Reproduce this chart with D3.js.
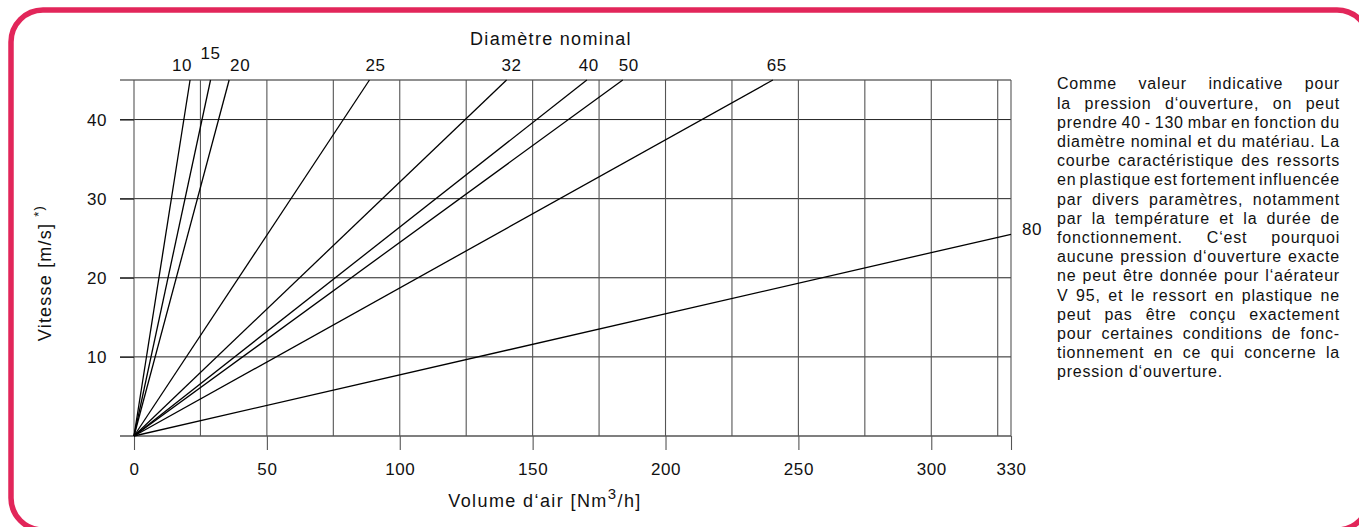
<!DOCTYPE html>
<html><head><meta charset="utf-8">
<script src="https://cdn.jsdelivr.net/npm/d3@7"></script>
<style>
html,body{margin:0;padding:0;background:#fff;}
svg{display:block;}
text{font-family:"Liberation Sans",Arial,Helvetica,sans-serif;fill:#111;}
</style>
</head><body>
<svg id="c" width="1359" height="527"></svg>
<script>
// ---- data ----
const xTicks = [0, 50, 100, 150, 200, 250, 300, 330];
const xMinor = [25, 75, 125, 175, 225, 275, 325];
const yTicks = [10, 20, 30, 40];
const yMax = 45;
const xMax = 330;
const diameters = ["10", "15", "20", "25", "32", "40", "50", "65", "80"];
const endVolume = [21.1, 28.8, 35.8, 88.6, 140.2, 170.4, 183.9, 240.4, 330];
const endSpeed  = [45, 45, 45, 45, 45, 45, 45, 45, 25.5];
const topTitle = "Diamètre nominal";
const xTitle = ["Volume d‘air [Nm", "3", "/h]"];
const yTitle = ["Vitesse [m/s] ", "*)"];
const paragraphLines = [
  "Comme valeur indicative pour",
  "la pression d‘ouverture, on peut",
  "prendre 40 - 130 mbar en fonction du",
  "diamètre nominal et du matériau. La",
  "courbe caractéristique des ressorts",
  "en plastique est fortement influencée",
  "par divers paramètres, notamment",
  "par la température et la durée de",
  "fonctionnement. C‘est pourquoi",
  "aucune pression d‘ouverture exacte",
  "ne peut être donnée pour l‘aérateur",
  "V 95, et le ressort en plastique ne",
  "peut pas être conçu exactement",
  "pour certaines conditions de fonc-",
  "tionnement en ce qui concerne la",
  "pression d‘ouverture."
];
// label layout (offsets relative to each line's end point)
const labelDx = [-8, 0, 11, 6, 5, 2, 6, 4, 21];
const labelDy = [-9, -21, -9, -9, -9, -9, -9, -9, 1];

// ---- layout ----
const svg = d3.select("#c");
const x = d3.scaleLinear().domain([0, xMax]).range([134, 1011]);
const y = d3.scaleLinear().domain([0, yMax]).range([436, 80]);
const leftExt = 120, tickDown = 14;

// border
svg.append("rect")
  .attr("x", 11).attr("y", 10).attr("width", 1358).attr("height", 520)
  .attr("rx", 32).attr("ry", 32)
  .attr("fill", "none").attr("stroke", "#e2265a").attr("stroke-width", 5.5);

const g = svg.append("g");

// horizontal gridlines
g.selectAll("line.h").data(yTicks.concat([yMax])).enter().append("line")
  .attr("x1", leftExt).attr("x2", x(xMax))
  .attr("y1", d => y(d)).attr("y2", d => y(d))
  .attr("stroke", "#222").attr("stroke-width", 1);

// minor vertical gridlines
g.selectAll("line.vm").data(xMinor).enter().append("line")
  .attr("x1", d => x(d)).attr("x2", d => x(d))
  .attr("y1", y(yMax)).attr("y2", y(0))
  .attr("stroke", "#555").attr("stroke-width", 1.1);

// major vertical gridlines
g.selectAll("line.vM").data(xTicks).enter().append("line")
  .attr("x1", d => x(d)).attr("x2", d => x(d))
  .attr("y1", y(yMax)).attr("y2", y(0))
  .attr("stroke", "#555").attr("stroke-width", 1.1);

// x axis
const xa = g.append("g").attr("transform", `translate(0,${y(0)})`)
  .call(d3.axisBottom(x).tickValues(xTicks).tickSize(tickDown).tickPadding(13).tickFormat(d3.format("d")));
xa.select(".domain").remove();
xa.selectAll(".tick line").attr("stroke", "#555").attr("stroke-width", 1.1);
xa.selectAll(".tick text").attr("fill", "#111").style("font-size", "17px")
  .style("letter-spacing", "0.6px").style("font-family", '"Liberation Sans",Arial,sans-serif');

// axis base line
g.append("line").attr("x1", leftExt).attr("x2", x(xMax))
  .attr("y1", y(0)).attr("y2", y(0)).attr("stroke", "#555").attr("stroke-width", 1.6);

// y axis
const ya = g.append("g").attr("transform", `translate(${x(0)},0)`)
  .call(d3.axisLeft(y).tickValues(yTicks).tickSize(tickDown).tickPadding(13));
ya.select(".domain").remove();
ya.selectAll(".tick line").attr("stroke", "#222").attr("stroke-width", 1);
ya.selectAll(".tick text").attr("fill", "#111").style("font-size", "17px")
  .style("letter-spacing", "0.6px").style("font-family", '"Liberation Sans",Arial,sans-serif');

// characteristic lines
const line = d3.line().x(d => x(d[0])).y(d => y(d[1]));
diameters.forEach((dn, i) => {
  g.append("path")
    .attr("d", line([[0, 0], [endVolume[i], endSpeed[i]]]))
    .attr("fill", "none").attr("stroke", "#000").attr("stroke-width", 1.3);
  g.append("text")
    .attr("x", x(endVolume[i]) + labelDx[i])
    .attr("y", y(endSpeed[i]) + labelDy[i])
    .attr("text-anchor", "middle")
    .style("font-size", "17px").style("letter-spacing", "0.6px")
    .text(dn);
});

// titles
svg.append("text").attr("x", 551).attr("y", 45).attr("text-anchor", "middle")
  .style("font-size", "18px").style("letter-spacing", "1.3px").text(topTitle);

const xt = svg.append("text").attr("x", 545).attr("y", 507).attr("text-anchor", "middle")
  .style("font-size", "18px").style("letter-spacing", "1.4px");
xt.append("tspan").text(xTitle[0]);
xt.append("tspan").attr("dy", -8).style("font-size", "15px").text(xTitle[1]);
xt.append("tspan").attr("dy", 8).text(xTitle[2]);

const yt = svg.append("text").attr("transform", "translate(51,273) rotate(-90)")
  .attr("text-anchor", "middle").style("font-size", "18px").style("letter-spacing", "1.2px");
yt.append("tspan").text(yTitle[0]);
yt.append("tspan").attr("dy", -8).style("font-size", "13px").text(yTitle[1]);

// justified paragraph
const px0 = 1057, px1 = 1340, pBase = 89.3, pStep = 19.2;
const pg = svg.append("g").style("font-size", "16px").style("letter-spacing", "0.8px");
const spaceW = 5;
paragraphLines.forEach((ln, i) => {
  const words = ln.split(" ");
  const yy = pBase + i * pStep;
  const nodes = words.map(w => pg.append("text").attr("y", yy).attr("fill", "#1a1a1a").text(w));
  const widths = nodes.map(n => n.node().getComputedTextLength());
  const W = d3.sum(widths);
  const last = i === paragraphLines.length - 1;
  let gap = last || words.length < 2 ? spaceW : (px1 - px0 - W) / (words.length - 1);
  let scale = 1;
  if (!last && gap < 2.5) { gap = 2.5; scale = (px1 - px0 - gap * (words.length - 1)) / W; }
  let xx = px0;
  nodes.forEach((n, k) => {
    n.attr("x", xx);
    if (scale !== 1) n.attr("textLength", widths[k] * scale).attr("lengthAdjust", "spacingAndGlyphs");
    xx += widths[k] * scale + gap;
  });
});
</script>
</body></html>
